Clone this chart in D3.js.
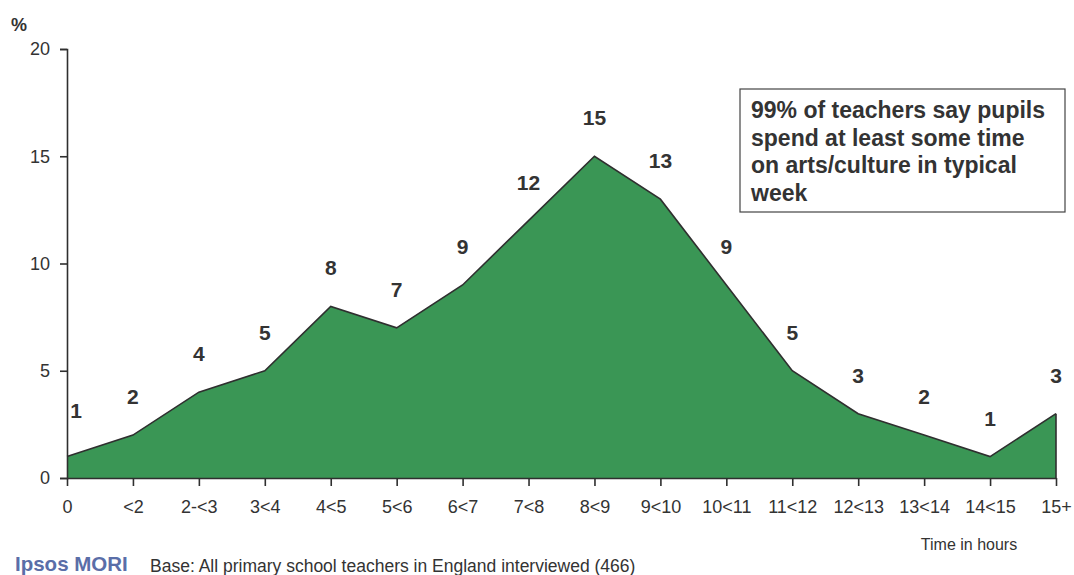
<!DOCTYPE html>
<html>
<head>
<meta charset="utf-8">
<script src="https://cdn.jsdelivr.net/npm/d3@7"></script>
<style>
  html, body { margin: 0; padding: 0; background: #fff; }
  svg { display: block; font-family: "Liberation Sans", Arial, sans-serif; }
</style>
</head>
<body>
<svg id="chart" width="1074" height="575"></svg>
<script>
// Time spent on arts/culture per week (hours), % of primary teachers
const categories = ["0", "<2", "2-<3", "3<4", "4<5", "5<6", "6<7", "7<8", "8<9", "9<10", "10<11", "11<12", "12<13", "13<14", "14<15", "15+"];
const values = [1, 2, 4, 5, 8, 7, 9, 12, 15, 13, 9, 5, 3, 2, 1, 3];
const yTicks = [0, 5, 10, 15, 20];
const calloutLines = [
  "99% of teachers say pupils",
  "spend at least some time",
  "on arts/culture in typical",
  "week"
];

const svg = d3.select("#chart");
const ink = "#2f2f2f";

const x = d3.scalePoint().domain(categories).range([67, 1056]);
const y = d3.scaleLinear().domain([0, 20]).range([478, 49]);

const data = categories.map((c, i) => ({ cat: c, v: values[i], i }));

// Filled area
svg.append("path")
  .datum(data)
  .attr("fill", "#3a9655")
  .attr("d", d3.area().x(d => x(d.cat)).y0(y(0)).y1(d => y(d.v)));

// Outline on top of the area
svg.append("path")
  .datum(data)
  .attr("fill", "none")
  .attr("stroke", ink)
  .attr("stroke-width", 1.6)
  .attr("d", d3.line().x(d => x(d.cat)).y(d => y(d.v)));

// Right edge of the area down to the baseline
const last = data[data.length - 1];
svg.append("line")
  .attr("x1", x(last.cat)).attr("x2", x(last.cat))
  .attr("y1", y(last.v)).attr("y2", y(0))
  .attr("stroke", ink).attr("stroke-width", 1.6);

// Y axis
const yAxis = svg.append("g")
  .attr("transform", `translate(${x(categories[0])},0)`)
  .call(d3.axisLeft(y).tickValues(yTicks).tickSize(7).tickPadding(10));
yAxis.select(".domain").attr("stroke", ink).attr("stroke-width", 1.6);
yAxis.selectAll(".tick line").attr("stroke", ink).attr("stroke-width", 1.6);
yAxis.selectAll(".tick text")
  .attr("font-size", 18).attr("fill", "#333")
  .attr("font-family", "Liberation Sans, Arial, sans-serif");

// X axis
const xAxis = svg.append("g")
  .attr("transform", `translate(0,${y(0)})`)
  .call(d3.axisBottom(x).tickSize(8).tickSizeOuter(0).tickPadding(14));
xAxis.select(".domain").attr("stroke", ink).attr("stroke-width", 1.6);
xAxis.selectAll(".tick line").attr("stroke", ink).attr("stroke-width", 1.6);
xAxis.selectAll(".tick text")
  .attr("font-size", 18).attr("fill", "#333")
  .attr("font-family", "Liberation Sans, Arial, sans-serif");

// Value labels (the first one is nudged clear of the y axis)
svg.append("g").selectAll("text")
  .data(data)
  .join("text")
  .attr("x", d => x(d.cat) + (d.i === 0 ? 9 : 0))
  .attr("y", d => y(d.v) - 31 - (d.i === 0 ? 8 : 0))
  .attr("text-anchor", "middle")
  .attr("font-size", 21)
  .attr("font-weight", "bold")
  .attr("fill", "#333")
  .text(d => d.v);

// Axis unit
svg.append("text")
  .attr("x", 11).attr("y", 31)
  .attr("font-size", 18).attr("font-weight", "bold").attr("fill", "#333")
  .text("%");

// Callout box
svg.append("rect")
  .attr("x", 740).attr("y", 89).attr("width", 325).attr("height", 123)
  .attr("fill", "#fff").attr("stroke", "#444").attr("stroke-width", 1.2);
svg.append("g").selectAll("text")
  .data(calloutLines)
  .join("text")
  .attr("x", 751)
  .attr("y", (d, i) => 118 + i * 27.5)
  .attr("font-size", 23)
  .attr("font-weight", "bold")
  .attr("fill", "#333")
  .text(d => d);

// Axis title
svg.append("text")
  .attr("x", 969).attr("y", 550)
  .attr("text-anchor", "middle")
  .attr("font-size", 16).attr("fill", "#333")
  .text("Time in hours");

// Footer
svg.append("text")
  .attr("x", 15).attr("y", 571)
  .attr("font-size", 20.5).attr("font-weight", "bold")
  .attr("fill", "#5a6ea8")
  .text("Ipsos MORI");
svg.append("text")
  .attr("x", 150).attr("y", 572)
  .attr("font-size", 17.5).attr("fill", "#333")
  .text("Base: All primary school teachers in England interviewed (466)");
</script>
</body>
</html>
